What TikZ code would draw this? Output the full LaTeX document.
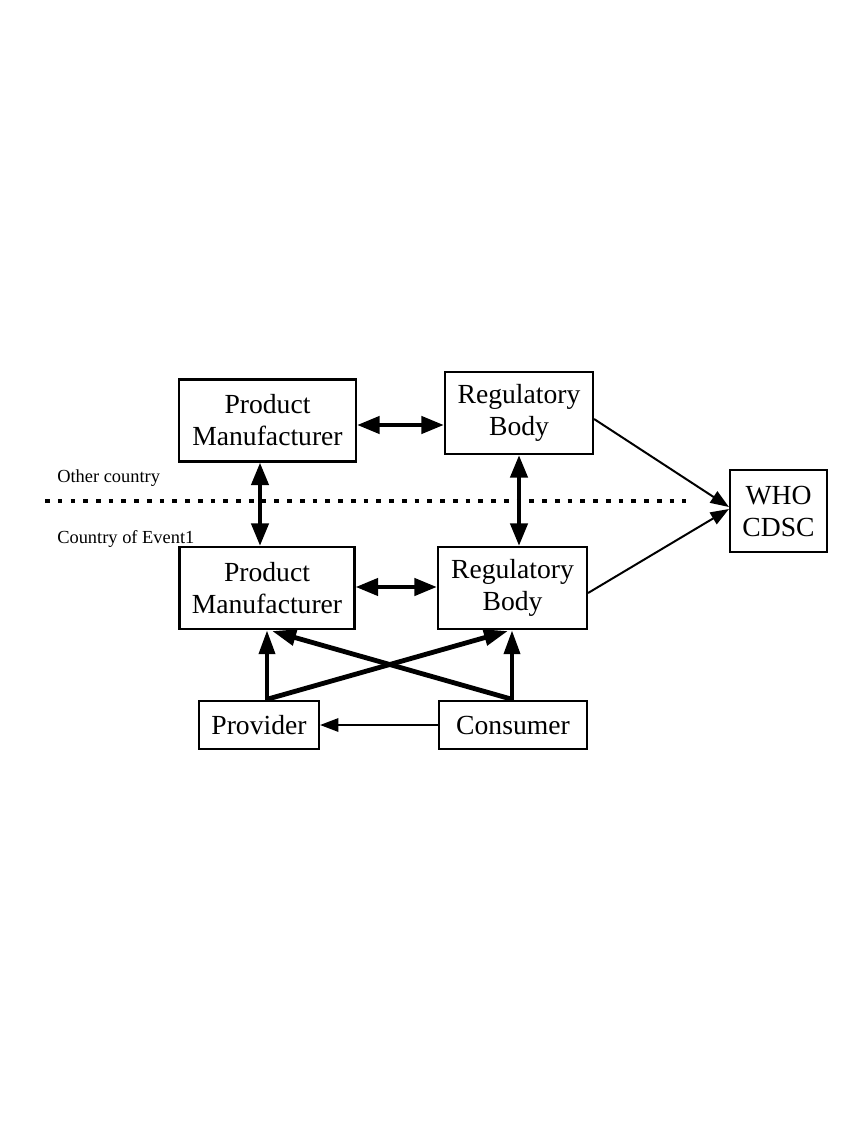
\documentclass[tikz,border=0pt]{standalone}
\usepackage{fontspec}
\setmainfont{Liberation Serif}
\usetikzlibrary{arrows.meta}
\newlength\px
\setlength\px{0.7059pt}
\begin{document}
\begin{tikzpicture}[x=0.7059pt,y=-0.7059pt,
  box/.style={draw,line width=1.5pt,inner sep=0pt,align=center,
    font=\fontsize{19.5}{22.6}\selectfont},
  big/.style={line width=3.2pt,{Triangle[length=16pt,width=12pt]}-{Triangle[length=16pt,width=12pt]}},
  up/.style={line width=3.4pt,-{Triangle[length=17pt,width=11pt]}},
  thin/.style={line width=1.4pt,-{Triangle[length=13pt,width=9.5pt]}},
  lbl/.style={anchor=base west,inner sep=0pt,font=\fontsize{13}{15}\selectfont}]
\useasboundingbox (0,0) rectangle (867,1122);
\node[box,minimum width=177\px,minimum height=82\px] (pm1) at (267.5,420.5) {Product\\Manufacturer};
\node[box,minimum width=148\px,minimum height=82\px] (rb1) at (519,413) {Regulatory\\Body};
\node[box,minimum width=175\px,minimum height=82\px] (pm2) at (267,588) {Product\\Manufacturer};
\node[box,minimum width=149\px,minimum height=82\px] (rb2) at (512.5,588) {Regulatory\\Body};
\node[box,minimum width=120\px,minimum height=48\px] (prov) at (259,725) {Provider};
\node[box,minimum width=148\px,minimum height=48\px] (cons) at (513,725) {Consumer};
\node[box,minimum width=97\px,minimum height=82\px] (who) at (778.5,511) {WHO\\CDSC};
\node[lbl] (oc) at (57,482) {Other country};
\node[lbl] (ce) at (57,543) {Country of Event1};
\coordinate (d1) at (45,501);
\coordinate (d2) at (686,501);
\draw[line width=3.2pt,dash pattern=on 3.2pt off 5.8pt] (d1) -- (d2);
\draw[big] (pm1.east |- 0,425) -- (rb1.west |- 0,425);
\draw[big] (pm2.east |- 0,587) -- (rb2.west |- 0,587);
\draw[big] (pm1.south -| 260,0) -- (pm2.north -| 260,0);
\draw[big] (rb1.south -| 519,0) -- (rb2.north -| 519,0);
\draw[thin] (rb1.east |- 0,419) -- (who.west |- 0,507);
\draw[thin] (rb2.east |- 0,593) -- (who.west |- 0,509);
\draw[thin] (cons.west) -- (prov.east);
\draw[up] (prov.north -| 267,0) -- (pm2.south -| 267,0);
\draw[up] (cons.north -| 512,0) -- (rb2.south -| 512,0);
\draw[up] (268,699) -- (508,631);
\draw[up] (511,699) -- (272,631);
\end{tikzpicture}
\end{document}
